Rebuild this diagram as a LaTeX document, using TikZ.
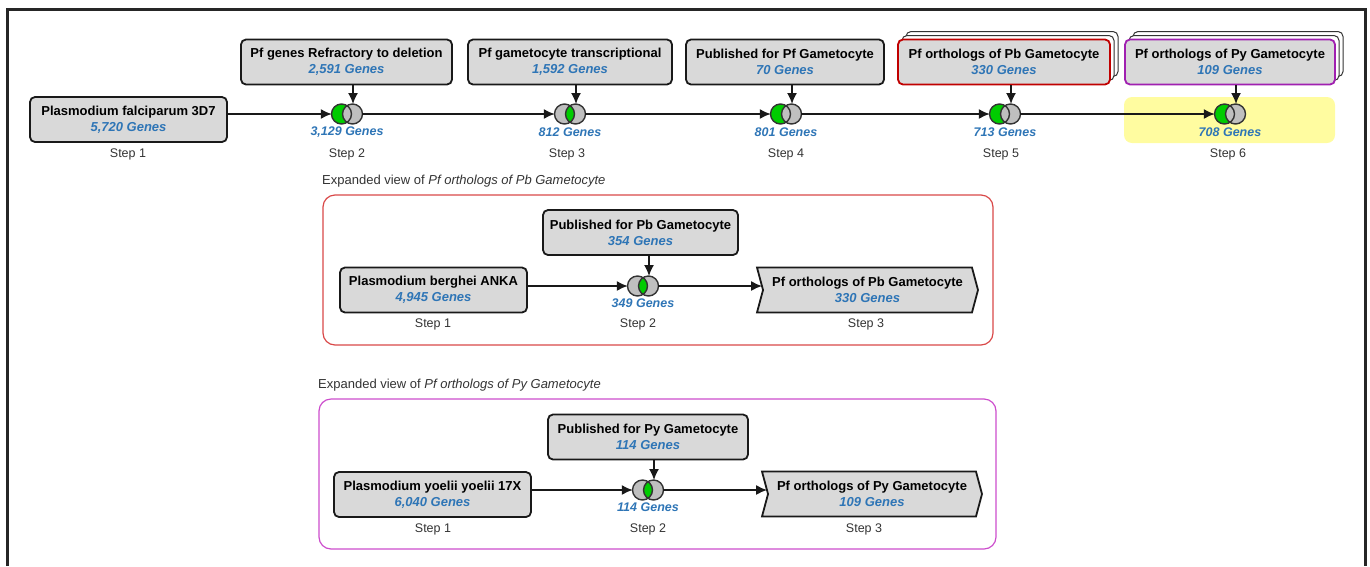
\documentclass[tikz,border=0pt]{standalone}
\usepackage{fontspec}
\setmainfont{Liberation Sans}
\usepackage{tikz}
\usetikzlibrary{arrows.meta, positioning, calc, shapes.symbols}

\definecolor{boxgray}{HTML}{D9D9D9}
\definecolor{geneblue}{HTML}{2E75B6}
\definecolor{vgreen}{HTML}{00CC00}
\definecolor{vgray}{HTML}{BFBFBF}
\definecolor{pbred}{HTML}{C00000}
\definecolor{pypurple}{HTML}{A020B0}
\definecolor{pbframe}{HTML}{D94848}
\definecolor{pyframe}{HTML}{CC4DCC}
\definecolor{hlyellow}{HTML}{FFFCA0}
\definecolor{steptext}{HTML}{333333}

\newcommand\gn[1]{{\color{geneblue}\itshape #1}}

\begin{document}
\begin{tikzpicture}[
    x=1pt, y=-1pt,
    src/.style={draw=black!90, line width=1.8pt, rounded corners=5pt, fill=boxgray,
                minimum height=45pt, inner sep=0pt, align=center,
                font=\fontsize{13}{16}\selectfont\bfseries},
    stack/.style={src, fill=white, draw=black!80, line width=1pt},
    outbox/.style={draw=black!90, line width=1.8pt, fill=boxgray, signal, signal to=east,
                   signal from=west, signal pointer angle=150, minimum height=45pt,
                   inner sep=0pt, align=center, font=\fontsize{13}{16}\selectfont\bfseries},
    cnt/.style={font=\fontsize{12.5}{15}\selectfont\bfseries\itshape, text=geneblue, inner sep=0pt},
    steplbl/.style={font=\fontsize{12.5}{14}\selectfont, text=steptext, inner sep=0pt},
    viewlbl/.style={anchor=west, font=\fontsize{13}{15}\selectfont, text=steptext, inner sep=0pt},
    flow/.style={line width=1.6pt, black!90},
    vnode/.style={inner sep=0pt, minimum width=30pt, minimum height=20pt},
    vline/.style={line width=1.4pt, black!80},
    vminus/.pic={
        \fill[vgreen] (-5.5,0) circle (10);
        \fill[vgray] (5.5,0) circle (10);
        \draw[vline] (-5.5,0) circle (10) (5.5,0) circle (10);
        \node[vnode] (-c) {};
        \coordinate (-n) at (6,-10);
    },
    vand/.pic={
        \fill[vgray] (-5.5,0) circle (10) (5.5,0) circle (10);
        \begin{scope}
            \clip (-5.5,0) circle (10);
            \fill[vgreen] (5.5,0) circle (10);
        \end{scope}
        \draw[vline] (-5.5,0) circle (10) (5.5,0) circle (10);
        \node[vnode] (-c) {};
        \coordinate (-n) at (6,-10);
    },
    >={Latex[length=11pt, width=10pt]}
]
\useasboundingbox (0,0) rectangle (1370,566);
\draw[line width=3pt, black!85] (7,566) -- (7,9) -- (1365,9) -- (1365,566);

\fill[hlyellow, rounded corners=8pt] (1124,97) rectangle (1335,143);

\node[src, minimum width=197pt] (s1) at (128.5,119.5) {Plasmodium falciparum 3D7\\\gn{5,720 Genes}};
\node[src, minimum width=211pt] (b2) at (346.5,62) {Pf genes Refractory to deletion\\\gn{2,591 Genes}};
\node[src, minimum width=204pt] (b3) at (570,62) {Pf gametocyte transcriptional\\\gn{1,592 Genes}};
\node[src, minimum width=198pt] (b4) at (785,62) {Published for Pf Gametocyte\\\gn{70 Genes}};
\node[stack, minimum width=212pt] (b5s2) at (1012,54) {};
\node[stack, minimum width=212pt] (b5s1) at (1008,58) {};
\node[src, draw=pbred, minimum width=212pt] (b5) at (1004,62) {Pf orthologs of Pb Gametocyte\\\gn{330 Genes}};
\node[stack, minimum width=210pt] (b6s2) at (1238,54) {};
\node[stack, minimum width=210pt] (b6s1) at (1234,58) {};
\node[src, draw=pypurple, minimum width=210pt] (b6) at (1230,62) {Pf orthologs of Py Gametocyte\\\gn{109 Genes}};

\pic (v2) at (347,114) {vminus};
\pic (v3) at (570,114) {vand};
\pic (v4) at (786,114) {vminus};
\pic (v5) at (1005,114) {vminus};
\pic (v6) at (1230,114) {vminus};

\node[cnt] (c2) at (347,132) {3,129 Genes};
\node[cnt] (c3) at (570,132) {812 Genes};
\node[cnt] (c4) at (786,132) {801 Genes};
\node[cnt] (c5) at (1005,132) {713 Genes};
\node[cnt] (c6) at (1230,132) {708 Genes};

\node[steplbl] (st1) at (128,154) {Step 1};
\node[steplbl] (st2) at (347,154) {Step 2};
\node[steplbl] (st3) at (567,154) {Step 3};
\node[steplbl] (st4) at (786,154) {Step 4};
\node[steplbl] (st5) at (1001,154) {Step 5};
\node[steplbl] (st6) at (1228,154) {Step 6};

\draw[->, flow] (s1.east |- v2-c) -- (v2-c);
\draw[->, flow] (v2-c) -- (v3-c);
\draw[->, flow] (v3-c) -- (v4-c);
\draw[->, flow] (v4-c) -- (v5-c);
\draw[->, flow] (v5-c) -- (v6-c);
\draw[->, flow] (b2.south -| v2-n) -- (v2-n);
\draw[->, flow] (b3.south -| v3-n) -- (v3-n);
\draw[->, flow] (b4.south -| v4-n) -- (v4-n);
\draw[->, flow] (b5.south -| v5-n) -- (v5-n);
\draw[->, flow] (b6.south -| v6-n) -- (v6-n);

\node[viewlbl] (pblbl) at (322,181) {Expanded view of \textit{Pf orthologs of Pb Gametocyte}};
\draw[pbframe, line width=1.2pt, rounded corners=12pt] (323,195) rectangle (993,345);
\node[src, minimum width=195pt] (pbpub) at (640.5,232.5) {Published for Pb Gametocyte\\\gn{354 Genes}};
\node[src, minimum width=187pt] (pbsrc) at (433.5,290) {Plasmodium berghei ANKA\\\gn{4,945 Genes}};
\pic (pbv) at (643,286) {vand};
\node[outbox, minimum width=221pt] (pbout) at (867.5,290) {Pf orthologs of Pb Gametocyte\\\gn{330 Genes}};
\node[cnt] (pbc) at (643,303) {349 Genes};
\node[steplbl] (pbst1) at (433,324) {Step 1};
\node[steplbl] (pbst2) at (638,324) {Step 2};
\node[steplbl] (pbst3) at (866,324) {Step 3};
\draw[->, flow] (pbsrc.east |- pbv-c) -- (pbv-c);
\draw[->, flow] (pbv-c.east) -- (pbv-c.east -| pbout.west);
\draw[->, flow] (pbpub.south -| pbv-n) -- (pbv-n);

\node[viewlbl] (pylbl) at (318,385) {Expanded view of \textit{Pf orthologs of Py Gametocyte}};
\draw[pyframe, line width=1.2pt, rounded corners=12pt] (319,399) rectangle (996,549);
\node[src, minimum width=200pt] (pypub) at (648,437) {Published for Py Gametocyte\\\gn{114 Genes}};
\node[src, minimum width=197pt] (pysrc) at (432.5,494.5) {Plasmodium yoelii yoelii 17X\\\gn{6,040 Genes}};
\pic (pyv) at (648,490) {vand};
\node[outbox, minimum width=220pt] (pyout) at (872,494) {Pf orthologs of Py Gametocyte\\\gn{109 Genes}};
\node[cnt] (pyc) at (648,507) {114 Genes};
\node[steplbl] (pyst1) at (433,529) {Step 1};
\node[steplbl] (pyst2) at (648,529) {Step 2};
\node[steplbl] (pyst3) at (864,529) {Step 3};
\draw[->, flow] (pysrc.east |- pyv-c) -- (pyv-c);
\draw[->, flow] (pyv-c.east) -- (pyv-c.east -| pyout.west);
\draw[->, flow] (pypub.south -| pyv-n) -- (pyv-n);
\end{tikzpicture}
\end{document}
